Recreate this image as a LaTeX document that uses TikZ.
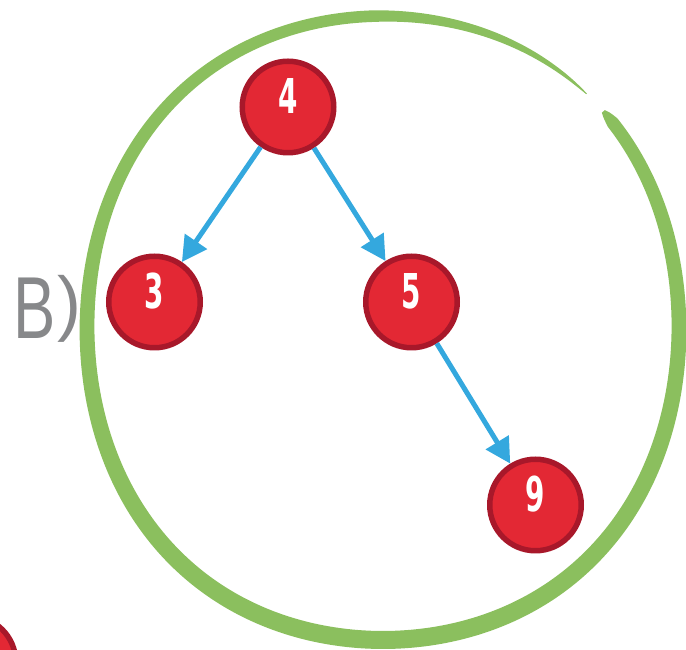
\documentclass[tikz,border=0pt]{standalone}
\usepackage{fontspec}
\usepackage{graphicx}
\usetikzlibrary{arrows.meta}
\newfontfamily\digitfont{DejaVu Sans}
\newfontfamily\labelfont{Liberation Sans}
\definecolor{nodefill}{RGB}{227,40,52}
\definecolor{nodeborder}{RGB}{168,24,42}
\definecolor{arrowblue}{RGB}{52,168,222}
\definecolor{brushgreen}{RGB}{139,191,94}
\definecolor{labelgray}{RGB}{135,136,138}
\tikzset{
  treenode/.style={circle, fill=nodefill, draw=nodeborder, line width=5.5pt, minimum size=91.5pt, inner sep=0pt},
  digit/.style={text=white, inner sep=0pt, font=\digitfont\bfseries\fontsize{48pt}{48pt}\selectfont},
  treearrow/.style={draw=arrowblue, line width=5pt, -{Triangle[length=25pt,width=26pt]}},
  graylabel/.style={text=labelgray, inner sep=0pt}
}
\begin{document}
\begin{tikzpicture}[x=1pt,y=1pt,
  declare function={
    ff(\t)=1+0.018*sin(2*\t)^2;
    hw(\t)=(7.4-1.6*sin(\t))*(min(1,(\t-47)/45))^0.6*sqrt(min(1,(403.3-\t)/3));
  }]
\useasboundingbox (0,0) rectangle (686,650);
\clip (0,0) rectangle (686,650);
% brush circle
\fill[brushgreen] plot[domain=47.5:403,samples=400,variable=\t]
  ({383+(296*ff(\t)+hw(\t))*cos(\t)},{322+(312*ff(\t)+hw(\t))*sin(\t)})
  -- plot[domain=403:47.5,samples=400,variable=\t]
  ({383+(296*ff(\t)-hw(\t))*cos(\t)},{322+(312*ff(\t)-hw(\t))*sin(\t)}) -- cycle;
% nodes
\node[treenode] (n4) at (288,543) {};
\node[treenode] (n3) at (154.5,348) {};
\node[treenode] (n5) at (411.5,348) {};
\node[treenode] (n9) at (535.5,145) {};
\node[treenode] (nx) at (-30,-12) {};
\node[digit] (d4) at ([yshift=11pt]n4.center) {\scalebox{0.58}[1]{4}};
\node[digit] (d3) at ([yshift=11pt]n3.center) {\scalebox{0.58}[1]{3}};
\node[digit] (d5) at ([yshift=11pt]n5.center) {\scalebox{0.58}[1]{5}};
\node[digit] (d9) at ([yshift=11pt]n9.center) {\scalebox{0.58}[1]{9}};
% arrows
\draw[treearrow] (n4) -- (n3);
\draw[treearrow] (n4) -- (n5);
\draw[treearrow] (n5) -- (n9);
% label
\node[graylabel, font=\labelfont\fontsize{88pt}{88pt}\selectfont] (lb) at (35,341.5) {\scalebox{0.72}[1]{B}};
\node[graylabel, font=\labelfont\fontsize{72pt}{72pt}\selectfont] (lp) at (69,341.5) {)};
\end{tikzpicture}
\end{document}
